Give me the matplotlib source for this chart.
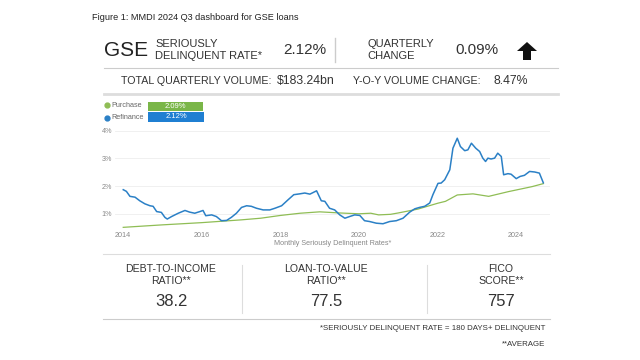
import matplotlib
matplotlib.use("Agg")
import matplotlib.pyplot as plt
import matplotlib.patches as mpatches
from matplotlib.lines import Line2D

plt.rcParams["font.family"] = ["Liberation Sans", "DejaVu Sans"]

# header figures
sd_rate = "2.12%"
qtr_change = "0.09%"
total_volume = "$183.24bn"
yoy_change = "8.47%"

# bottom panel
panel_labels = ["DEBT-TO-INCOME\nRATIO**", "LOAN-TO-VALUE\nRATIO**", "FICO\nSCORE**"]
panel_values = ["38.2", "77.5", "757"]

# refinance monthly seriously delinquent rate (%)
refi_t = [2014.00, 2014.08, 2014.17, 2014.30, 2014.42, 2014.55, 2014.68, 2014.76, 2014.85, 2014.97,
          2015.06, 2015.12, 2015.23, 2015.40, 2015.57, 2015.69, 2015.82, 2015.95, 2016.03, 2016.10,
          2016.25, 2016.37, 2016.50, 2016.63, 2016.75, 2016.88, 2017.01, 2017.14, 2017.26, 2017.39,
          2017.56, 2017.73, 2017.86, 2018.03, 2018.19, 2018.34, 2018.49, 2018.62, 2018.75, 2018.92,
          2019.04, 2019.13, 2019.25, 2019.38, 2019.51, 2019.64, 2019.76, 2019.89, 2020.02, 2020.14,
          2020.27, 2020.44, 2020.61, 2020.78, 2020.95, 2021.12, 2021.29, 2021.42, 2021.54, 2021.67,
          2021.80, 2021.88, 2022.01, 2022.09, 2022.18, 2022.31, 2022.39, 2022.50, 2022.58, 2022.69,
          2022.77, 2022.86, 2022.97, 2023.07, 2023.15, 2023.22, 2023.28, 2023.36, 2023.45, 2023.53,
          2023.62, 2023.68, 2023.79, 2023.87, 2024.00, 2024.10, 2024.21, 2024.34, 2024.47, 2024.59,
          2024.69]
refi_rate = [1.87, 1.81, 1.63, 1.60, 1.47, 1.36, 1.29, 1.27, 1.08, 1.05,
             0.87, 0.81, 0.90, 1.02, 1.12, 1.06, 1.02, 1.08, 1.12, 0.93,
             0.96, 0.90, 0.75, 0.76, 0.87, 1.02, 1.23, 1.29, 1.27, 1.20,
             1.14, 1.14, 1.20, 1.29, 1.50, 1.69, 1.72, 1.75, 1.71, 1.83,
             1.47, 1.45, 1.20, 1.14, 0.96, 0.84, 0.90, 0.96, 0.94, 0.75,
             0.72, 0.66, 0.64, 0.72, 0.75, 0.84, 1.06, 1.18, 1.23, 1.27,
             1.39, 1.69, 2.10, 2.11, 2.23, 2.59, 3.37, 3.73, 3.43, 3.28,
             3.31, 3.55, 3.37, 3.25, 3.01, 2.89, 3.01, 2.98, 3.01, 3.19,
             3.07, 2.41, 2.45, 2.43, 2.27, 2.35, 2.39, 2.53, 2.51, 2.47,
             2.12]

# purchase rate (%)
purch_t = [2014.00, 2015.00, 2016.00, 2017.00, 2017.50, 2018.00, 2018.50, 2019.00, 2019.50, 2020.00,
           2020.30, 2020.50, 2020.80, 2021.00, 2021.50, 2022.00, 2022.20, 2022.50, 2022.90, 2023.30,
           2023.80, 2024.00, 2024.40, 2024.69]
purch_rate = [0.51, 0.60, 0.68, 0.78, 0.84, 0.94, 1.02, 1.07, 1.03, 1.00,
              1.02, 0.96, 0.98, 1.03, 1.17, 1.38, 1.45, 1.68, 1.72, 1.63,
              1.80, 1.86, 1.98, 2.09]

blue = "#2b80c6"
green = "#8fbd55"
W, H = 640, 360


def fx(x):
    return x / W


def fy(y):
    return 1 - y / H


fig = plt.figure(figsize=(6.4, 3.6), dpi=100)
fig.patch.set_facecolor("white")

# title
fig.text(fx(92), fy(17), "Figure 1: MMDI 2024 Q3 dashboard for GSE loans", fontsize=6.6,
         color="#222222", va="center", ha="left")

# header row
fig.text(fx(104), fy(50), "GSE", fontsize=15, va="center", ha="left", color="#222222")
fig.text(fx(155), fy(50), "SERIOUSLY\nDELINQUENT RATE*", fontsize=8, va="center", ha="left",
         color="#333333", linespacing=1.3)
fig.text(fx(283), fy(50), sd_rate, fontsize=11, va="center", ha="left", color="#333333")
fig.add_artist(Line2D([fx(335), fx(335)], [fy(38), fy(62)], color="#cccccc", lw=1))
fig.text(fx(367), fy(50), "QUARTERLY\nCHANGE", fontsize=8, va="center", ha="left",
         color="#333333", linespacing=1.3)
fig.text(fx(455), fy(50), qtr_change, fontsize=11, va="center", ha="left", color="#333333")
arrow = mpatches.Polygon([(fx(527), fy(42)), (fx(537), fy(51)), (fx(531), fy(51)), (fx(531), fy(60)),
                          (fx(523), fy(60)), (fx(523), fy(51)), (fx(517), fy(51))],
                         closed=True, facecolor="#111111", edgecolor="none", transform=fig.transFigure)
fig.add_artist(arrow)
fig.add_artist(Line2D([fx(104), fx(558)], [fy(68), fy(68)], color="#cccccc", lw=0.8))

fig.text(fx(121), fy(81), "TOTAL QUARTERLY VOLUME:", fontsize=7.7, va="center", ha="left", color="#333333")
fig.text(fx(277), fy(81), total_volume, fontsize=8.8, va="center", ha="left", color="#333333")
fig.text(fx(353), fy(81), "Y-O-Y VOLUME CHANGE:", fontsize=7.7, va="center", ha="left", color="#333333")
fig.text(fx(493), fy(81), yoy_change, fontsize=8.8, va="center", ha="left", color="#333333")
fig.add_artist(Line2D([fx(104), fx(558)], [fy(94), fy(94)], color="#dddddd", lw=2))

# legend with value boxes
fig.add_artist(Line2D([fx(107)], [fy(105)], marker="o", ms=3.5, color=green, lw=0))
fig.text(fx(111), fy(105), "Purchase", fontsize=5.2, va="center", ha="left", color="#666666")
fig.add_artist(mpatches.Rectangle((fx(148), fy(111)), fx(55), 9.5 / H, facecolor="#7ab648",
                                  edgecolor="none", transform=fig.transFigure))
fig.text(fx(175), fy(106.3), f"{purch_rate[-1]:.2f}%", fontsize=5.5, va="center", ha="center", color="white")
fig.add_artist(Line2D([fx(107)], [fy(118)], marker="o", ms=3.5, color=blue, lw=0))
fig.text(fx(111), fy(118), "Refinance", fontsize=5.2, va="center", ha="left", color="#666666")
fig.add_artist(mpatches.Rectangle((fx(148), fy(122)), fx(56), 10 / H, facecolor="#1f7fd2",
                                  edgecolor="none", transform=fig.transFigure))
fig.text(fx(176), fy(117), f"{refi_rate[-1]:.2f}%", fontsize=5.5, va="center", ha="center", color="white")

# line chart
ax = fig.add_axes([fx(115), fy(229), fx(550) - fx(115), (229 - 128) / H])
ax.plot(purch_t, purch_rate, color=green, lw=0.9)
ax.plot(refi_t, refi_rate, color=blue, lw=1.1)
ax.set_xlim(2013.79, 2024.86)
ax.set_ylim(0.45, 4.1)
ax.set_xticks([2014, 2016, 2018, 2020, 2022, 2024])
ax.set_xticklabels(["2014", "2016", "2018", "2020", "2022", "2024"])
ax.set_yticks([1, 2, 3, 4])
ax.set_yticklabels(["1%", "2%", "3%", "4%"])
ax.tick_params(length=0, labelsize=5.2, labelcolor="#888888", pad=2)
ax.grid(axis="y", color="#eeeeee", lw=0.6)
ax.set_axisbelow(True)
for s in ax.spines.values():
    s.set_visible(False)
ax.set_xlabel("Monthly Seriously Delinquent Rates*", fontsize=5.2, color="#888888", labelpad=1)
fig.add_artist(Line2D([fx(103), fx(550)], [fy(254), fy(254)], color="#dddddd", lw=0.8))

# bottom panel
for cx, lab, val in zip([171, 326, 501], panel_labels, panel_values):
    fig.text(fx(cx), fy(275), lab, fontsize=7.6, va="center", ha="center", color="#333333", linespacing=1.2)
    fig.text(fx(cx), fy(302), val, fontsize=12, va="center", ha="center", color="#333333")
for sx in [242, 427]:
    fig.add_artist(Line2D([fx(sx), fx(sx)], [fy(265), fy(313)], color="#dddddd", lw=0.8))
fig.add_artist(Line2D([fx(103), fx(550)], [fy(319), fy(319)], color="#cccccc", lw=0.8))

fig.text(fx(545), fy(329), "*SERIOUSLY DELINQUENT RATE = 180 DAYS+ DELINQUENT", fontsize=5.7,
         va="center", ha="right", color="#333333")
fig.text(fx(545), fy(344), "**AVERAGE", fontsize=5.7, va="center", ha="right", color="#333333")

fig.savefig("out.png", dpi=100, facecolor="white")
